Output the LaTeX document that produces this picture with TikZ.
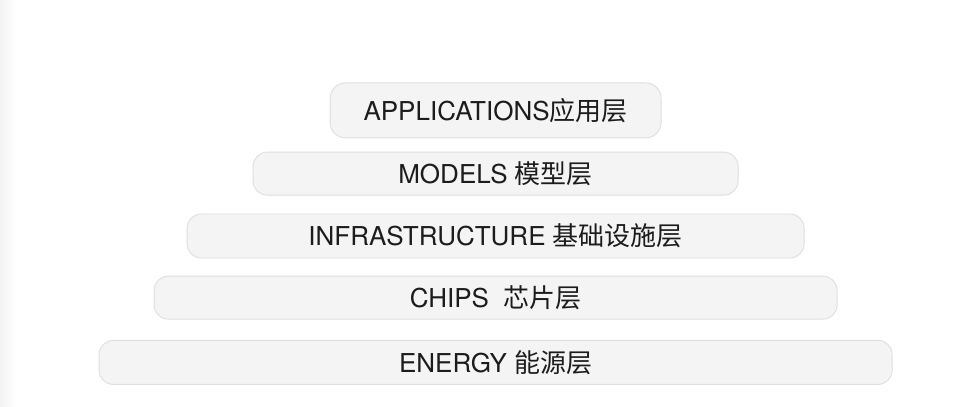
\documentclass[tikz,border=0pt]{standalone}
\usepackage{fontspec}
\setmainfont{TeX Gyre Heros}
\newfontfamily\cjk{Noto Sans CJK SC}
\usepackage{tikz}
\usetikzlibrary{positioning}
\usepackage{xcolor}
\definecolor{layerfill}{HTML}{F4F4F5}
\definecolor{layerline}{HTML}{DEDEDF}
\definecolor{layertext}{HTML}{1C1C1C}

\begin{document}
\begin{tikzpicture}[
    layer/.style={draw=layerline, fill=layerfill, line width=0.6pt, rounded corners=10pt,
        minimum height=1.075cm, inner sep=0pt, text=layertext, font=\fontsize{18.5}{20}\selectfont}
]
    % Canvas
    \useasboundingbox (0,0) rectangle (24,10.15);
    \fill[white] (0,0) rectangle (24,10.15);
    \shade[left color=black!5, right color=white] (0,0) rectangle (0.4,10.15);

    % Layers, top to bottom
    \node[layer, minimum width=8.275cm, minimum height=1.375cm, rounded corners=11pt] (apps) at (12.39,7.39) {APPLICATIONS{\cjk 应用层}};
    \node[layer, minimum width=12.125cm] (models) at (12.39,5.81) {MODELS {\cjk 模型层}};
    \node[layer, minimum width=15.425cm, minimum height=1.1cm] (infra) at (12.39,4.25) {INFRASTRUCTURE {\cjk 基础设施层}};
    \node[layer, minimum width=17.075cm] (chips) at (12.39,2.71) {CHIPS\ \ {\cjk 芯片层}};
    \node[layer, minimum width=19.825cm, minimum height=1.1cm] (energy) at (12.39,1.09) {ENERGY {\cjk 能源层}};

\end{tikzpicture}
\end{document}
